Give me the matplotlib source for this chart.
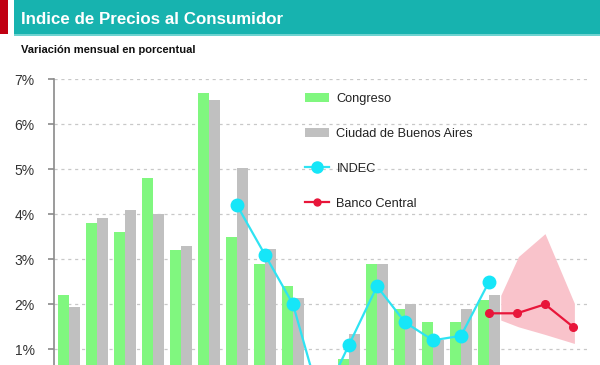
import matplotlib
matplotlib.use("Agg")
import matplotlib.pyplot as plt
from matplotlib.patches import Rectangle, Patch
from matplotlib.lines import Line2D
import numpy as np

plt.rcParams['font.family'] = ['Liberation Sans', 'DejaVu Sans']

# ---- data ----
months = ["Nov 15", "Dic 15", "Ene 16", "Feb 16", "Mar 16", "Abr 16", "May 16", "Jun 16",
          "Jul 16", "Ago 16", "Sep 16", "Oct 16", "Nov 16", "Dic 16", "Ene 17", "Feb 17",
          "Mar 17", "Abr 17", "May 17"]
congreso = [2.2, 3.8, 3.6, 4.8, 3.2, 6.7, 3.5, 2.9, 2.4, 0.5, 0.78, 2.9, 1.9, 1.6, 1.6, 2.1]
caba = [1.95, 3.92, 4.1, 4.0, 3.3, 6.55, 5.03, 3.22, 2.15, 0.4, 1.33, 2.9, 2.0, 1.2, 1.9, 2.2]
indec_idx = [6, 7, 8, 9, 10, 11, 12, 13, 14, 15]
indec = [4.2, 3.1, 2.0, -0.2, 1.1, 2.4, 1.6, 1.2, 1.3, 2.5]
bcra_idx = [15, 16, 17, 18]
bcra = [1.8, 1.8, 2.0, 1.5]
band_x = [15.42, 16.05, 17.0, 18.05]
band_low = [1.65, 1.5, 1.33, 1.13]
band_high = [2.2, 3.06, 3.57, 2.02]
yticks = [1, 2, 3, 4, 5, 6, 7]
ytick_labels = ["1%", "2%", "3%", "4%", "5%", "6%", "7%"]

GREEN = "#80F77F"
GRAY = "#C0C0C0"
CYAN = "#2FE3F2"
RED = "#E8163A"
PINK = "#F9C3CB"
TEAL = "#17B3AF"

W, H = 600, 365
fig = plt.figure(figsize=(W / 100, H / 100), dpi=100)
fig.patch.set_facecolor("white")

# header band
fig.patches.append(Rectangle((0, 1 - 34 / H), 8 / W, 34 / H, transform=fig.transFigure,
                             facecolor="#C00012", edgecolor="none"))
fig.patches.append(Rectangle((14 / W, 1 - 34 / H), 1, 34 / H, transform=fig.transFigure,
                             facecolor=TEAL, edgecolor="none"))
fig.patches.append(Rectangle((14 / W, 1 - 35.5 / H), 1, 1.5 / H, transform=fig.transFigure,
                             facecolor="#6FD3D0", edgecolor="none"))
fig.text(21 / W, 1 - 19.5 / H, "Indice de Precios al Consumidor", color="white",
         fontsize=12.2, fontweight="bold", va="center", ha="left")
fig.text(21 / W, 1 - 50 / H, "Variación mensual en porcentual", color="#111111",
         fontsize=8.0, fontweight="bold", va="center", ha="left")

# axes
top_px, bot_px = 79.3, 365
left_px, right_px = 54.3, 588
ax = fig.add_axes([left_px / W, 0, (right_px - left_px) / W, (H - top_px) / H])
px_per_unit_y = 45.0
ax.set_ylim(7 - (bot_px - top_px) / px_per_unit_y, 7)
ax.set_xlim((left_px - 69) / 28, (right_px - 69) / 28)

x = np.arange(len(congreso))
bw = 11 / 28
ax.bar(x - bw / 2, congreso, width=bw, color=GREEN, zorder=2)
ax.bar(x + bw / 2, caba, width=bw, color=GRAY, zorder=2)

ax.fill_between(band_x, band_low, band_high, color=PINK, linewidth=0, zorder=1.5)

ax.plot(indec_idx, indec, color=CYAN, lw=1.6, marker="o", markersize=9,
        markerfacecolor="#16E6F8", markeredgecolor="#16E6F8", zorder=4, clip_on=True)
ax.plot(bcra_idx, bcra, color=RED, lw=1.6, marker="o", markersize=5.5,
        markerfacecolor=RED, markeredgecolor=RED, zorder=4)

ax.set_yticks(yticks)
ax.set_yticklabels(ytick_labels, fontsize=10, color="#333333")
ax.set_xticks([])
ax.yaxis.grid(True, linestyle=(0, (2.5, 3)), color="#C8C8C8", linewidth=0.9, zorder=0)
ax.set_axisbelow(True)
for s in ["top", "right", "bottom"]:
    ax.spines[s].set_visible(False)
ax.spines["left"].set_color("#8A8A8A")
ax.spines["left"].set_linewidth(1.2)
ax.tick_params(axis="y", length=4, width=1.2, color="#8A8A8A", pad=10)

handles = [
    Patch(facecolor=GREEN, edgecolor="none"),
    Patch(facecolor=GRAY, edgecolor="none"),
    Line2D([], [], color=CYAN, lw=1.6, marker="o", markersize=8, markerfacecolor="#16E6F8",
           markeredgecolor="#16E6F8"),
    Line2D([], [], color=RED, lw=1.6, marker="o", markersize=5, markerfacecolor=RED,
           markeredgecolor=RED),
]
labels = ["Congreso", "Ciudad de Buenos Aires", "INDEC", "Banco Central"]
leg = ax.legend(handles, labels, loc="upper left", frameon=False,
                bbox_to_anchor=(300 / W, 1 - 88 / H), bbox_transform=fig.transFigure,
                prop={'size': 9.2}, handlelength=1.9, handleheight=0.75, handletextpad=0.55,
                labelspacing=1.78, borderaxespad=0)
for t in leg.get_texts():
    t.set_color("#222222")

fig.savefig("out.png", dpi=100)
